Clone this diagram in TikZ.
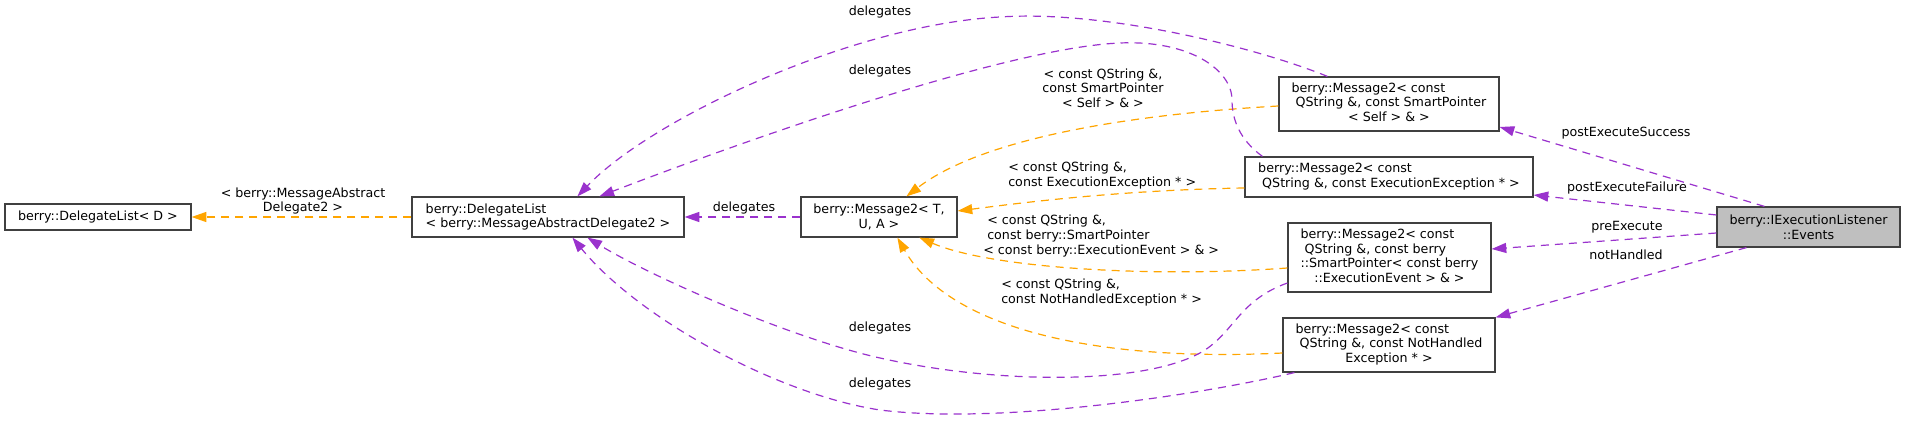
\documentclass[tikz,border=0pt]{standalone}
\usepackage{fontspec}
\setmainfont{DejaVu Sans}
\usetikzlibrary{arrows.meta,calc}
\definecolor{pl}{HTML}{9A32CD}
\definecolor{og}{HTML}{FFA500}
\definecolor{bd}{HTML}{404040}
\definecolor{evfill}{HTML}{BFBFBF}
\newcommand{\lc}[1]{\multicolumn{1}{@{}c@{}}{#1}}
\begin{document}
\begin{tikzpicture}[x=0.75pt,y=-0.75pt,
  every node/.style={font=\fontsize{9.5}{11}\selectfont},
  cls/.style={draw=bd,line width=0.9pt,fill=white,inner sep=0pt,align=center},
  lbl/.style={inner sep=0pt,align=center},
  pe/.style={draw=pl,line width=0.9pt,dash pattern=on 6pt off 4.5pt,-{Triangle[length=11pt,width=7.5pt]}},
  oe/.style={draw=og,line width=0.9pt,dash pattern=on 6pt off 4.5pt,-{Triangle[length=11pt,width=7.5pt]}}]
\useasboundingbox (0,0) rectangle (1905,423);
% classes
\node[cls,minimum width=139.5pt,minimum height=19.5pt] (dlD) at (98,217) {berry::DelegateList< D >};
\node[cls,minimum width=204pt,minimum height=30pt,align=left] (dl) at (548,217) {berry::DelegateList\\< berry::MessageAbstractDelegate2 >};
\node[cls,minimum width=117pt,minimum height=30pt] (m2) at (879,217) {berry::Message2< T,\\U, A >};
\node[cls,minimum width=165pt,minimum height=40.5pt] (mSelf) at (1389,104) {\begin{tabular}{@{}l@{}}berry::Message2< const\\\hspace*{3pt}QString \&, const SmartPointer\\\lc{< Self > \& >}\end{tabular}};
\node[cls,minimum width=216pt,minimum height=30pt] (mExc) at (1389,177) {\begin{tabular}{@{}l@{}}berry::Message2< const\\\hspace*{3pt}QString \&, const ExecutionException * >\end{tabular}};
\node[cls,minimum width=152.25pt,minimum height=51.75pt] (mEvt) at (1389.5,257.5) {\begin{tabular}{@{}l@{}}berry::Message2< const\\\hspace*{3pt}QString \&, const berry\\::SmartPointer< const berry\\\lc{::ExecutionEvent > \& >}\end{tabular}};
\node[cls,minimum width=159pt,minimum height=40.5pt] (mNH) at (1389,345) {\begin{tabular}{@{}l@{}}berry::Message2< const\\\hspace*{3pt}QString \&, const NotHandled\\\lc{Exception * >}\end{tabular}};
\node[cls,fill=evfill,minimum width=137.25pt,minimum height=30pt] (ev) at (1808.5,227) {berry::IExecutionListener\\::Events};
% edges
\draw[oe] (dl.west) -- (dlD.east);
\draw[pe] (m2.west) -- (dl.east);
\draw[oe] ($(mSelf.west)+(0,2)$) .. controls (1120,115) and (980,140) .. ($(m2.north west)+(106,0)$);
\draw[oe] ($(mExc.west)+(0,11)$) .. controls (1120,190) and (1020,203) .. ($(m2.east)+(0,-6)$);
\draw[oe] ($(mEvt.west)+(0,10.5)$) .. controls (1150,278) and (990,268) .. ($(m2.south west)+(119,0)$);
\draw[oe] ($(mNH.west)+(0,8)$) .. controls (1100,362) and (950,330) .. ($(m2.south west)+(97,0)$);
\draw[pe] ($(mSelf.north west)+(49,0)$) .. controls (1250,45) and (1100,10) .. (1000,17) .. controls (850,25) and (650,120) .. ($(dl.north west)+(166,0)$);
\draw[pe] ($(mExc.north west)+(18,0)$) .. controls (1240,140) and (1232,120) .. (1232,100) .. controls (1232,70) and (1190,40) .. (1120,43) .. controls (1000,48) and (720,150) .. ($(dl.north west)+(188,0)$);
\draw[pe] ($(mEvt.west)+(0,25.5)$) .. controls (1240,300) and (1235,330) .. (1205,350) .. controls (1150,385) and (1000,385) .. (880,358) .. controls (790,338) and (650,276) .. ($(dl.south west)+(176,0)$);
\draw[pe] ($(mNH.south west)+(12,0)$) .. controls (1200,395) and (1000,425) .. (880,410) .. controls (780,395) and (640,320) .. ($(dl.south west)+(161,0)$);
\draw[pe] ($(ev.north west)+(48,0)$) -- ($(mSelf.east)+(0,23)$);
\draw[pe] ($(ev.west)+(0,-12)$) -- ($(mExc.east)+(0,18)$);
\draw[pe] ($(ev.west)+(0,6)$) -- ($(mEvt.east)+(0,-8.5)$);
\draw[pe] ($(ev.south west)+(30,0)$) -- (mNH.north east);
% labels
\node[lbl] (l1) at (303,201) {< berry::MessageAbstract\\Delegate2 >};
\node[lbl] (l2) at (744,208) {delegates};
\node[lbl] (l3) at (1103,88) {< const QString \&,\\const SmartPointer\\< Self > \& >};
\node[lbl,anchor=west,align=left] (l4) at (1008,175.5) {< const QString \&,\\const ExecutionException * >};
\node[lbl,anchor=west,align=left] (l5) at (983,236) {\hspace*{3pt}< const QString \&,\\\hspace*{3pt}const berry::SmartPointer\\< const berry::ExecutionEvent > \& >};
\node[lbl,anchor=west,align=left] (l6) at (1001,292.5) {< const QString \&,\\const NotHandledException * >};
\node[lbl] (d1) at (880,12) {delegates};
\node[lbl] (d2) at (880,71) {delegates};
\node[lbl] (d3) at (880,328) {delegates};
\node[lbl] (d4) at (880,384) {delegates};
\node[lbl] (p1) at (1626,133) {postExecuteSuccess};
\node[lbl] (p2) at (1627,188) {postExecuteFailure};
\node[lbl] (p3) at (1627,227) {preExecute};
\node[lbl] (p4) at (1626,255) {notHandled};
\end{tikzpicture}
\end{document}
